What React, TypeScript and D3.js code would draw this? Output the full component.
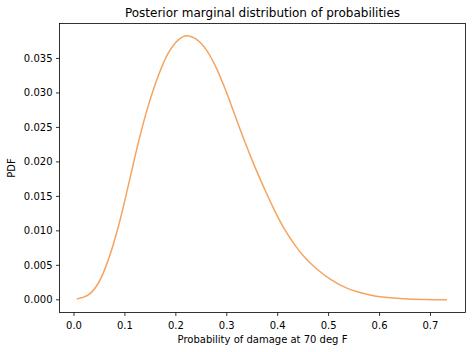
import React from 'react';
import * as d3 from 'd3';

// values
const probs = [0.0053, 0.0281, 0.0477, 0.0674, 0.087, 0.1067, 0.1263, 0.146, 0.1656, 0.1853, 0.2049, 0.2214, 0.2377, 0.2574, 0.277, 0.2967, 0.3163, 0.336, 0.3556, 0.3752, 0.3949, 0.4145, 0.4342, 0.4525, 0.4701, 0.503, 0.5357, 0.5815, 0.601, 0.647, 0.69, 0.7325];
const pdf = [0.0001, 0.0007, 0.0024, 0.0058, 0.0106, 0.0166, 0.0228, 0.0282, 0.0325, 0.0358, 0.0377, 0.0383, 0.0379, 0.0365, 0.034, 0.0306, 0.0267, 0.0228, 0.0192, 0.0159, 0.0128, 0.0101, 0.0079, 0.0062, 0.0049, 0.003, 0.0017, 0.0007, 0.00045, 0.00015, 0.00004, 0.00001];
const xTicks = [0, 0.1, 0.2, 0.3, 0.4, 0.5, 0.6, 0.7];
const yTicks = [0, 0.005, 0.01, 0.015, 0.02, 0.025, 0.03, 0.035];

const App = () => {
  const width = 472;
  const height = 352;
  const margin = { top: 23.5, right: 6.5, bottom: 39.5, left: 59.5 };
  const x0 = margin.left;
  const x1 = width - margin.right;
  const y0 = height - margin.bottom;
  const y1 = margin.top;

  const x = d3.scaleLinear().domain([-0.0285, 0.7688]).range([x0, x1]);
  const y = d3.scaleLinear().domain([-0.00184, 0.04007]).range([y0, y1]);

  const line = d3
    .line<number>()
    .x((d, i) => x(probs[i]))
    .y((d) => y(d))
    .curve(d3.curveCatmullRom);

  const font = 'DejaVu Sans, sans-serif';

  return (
    <svg
      width={width}
      height={height}
      style={{ position: 'absolute', left: 0, top: 0, background: '#fff' }}
      fontFamily={font}
    >
      <text x={(x0 + x1) / 2} y={17} fontSize={12} textAnchor='middle' fill='#000'>
        Posterior marginal distribution of probabilities
      </text>
      <path d={line(pdf) || ''} fill='none' stroke='sandybrown' strokeWidth={1.5} />
      <rect x={x0} y={y1} width={x1 - x0} height={y0 - y1} fill='none' stroke='#000' strokeWidth={0.8} />
      {xTicks.map((t) => (
        <g key={t} transform={`translate(${x(t)},${y0})`}>
          <line y2={3.5} stroke='#000' strokeWidth={0.8} />
          <text y={16.5} fontSize={10} textAnchor='middle' fill='#000'>
            {t.toFixed(1)}
          </text>
        </g>
      ))}
      {yTicks.map((t) => (
        <g key={t} transform={`translate(${x0},${y(t)})`}>
          <line x2={-3.5} stroke='#000' strokeWidth={0.8} />
          <text x={-7} dy='0.35em' fontSize={10} textAnchor='end' fill='#000'>
            {t.toFixed(3)}
          </text>
        </g>
      ))}
      <text x={(x0 + x1) / 2} y={343} fontSize={10} textAnchor='middle' fill='#000'>
        Probability of damage at 70 deg F
      </text>
      <text transform={`translate(15,${(y0 + y1) / 2}) rotate(-90)`} fontSize={10} textAnchor='middle' fill='#000'>
        PDF
      </text>
    </svg>
  );
};

export default App;
